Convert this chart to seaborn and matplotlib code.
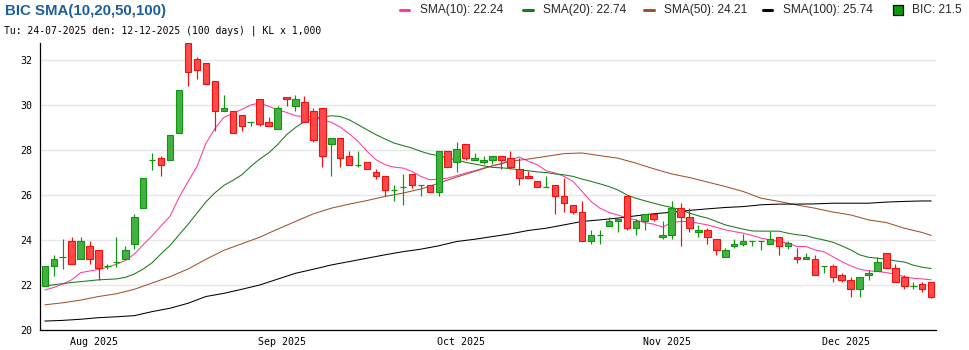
import numpy as np
import pandas as pd
import matplotlib
matplotlib.use("Agg")
import matplotlib.pyplot as plt
import seaborn as sns
from matplotlib.lines import Line2D
from matplotlib.patches import Rectangle

# ---- daily prices (KL x 1,000) ----
opens = [21.95, 22.86, 23.25, 23.95, 23.15, 23.73, 23.55, 22.84, 23.03, 23.15,
         23.82, 25.42, 27.57, 27.66, 27.57, 28.75, 32.75, 32.04, 31.87, 31.07,
         29.73, 29.75, 29.54, 29.24, 30.26, 29.24, 28.93, 30.35, 29.94, 30.13,
         29.73, 29.86, 28.27, 28.53, 27.73, 27.33, 27.47, 27.02, 26.84, 26.22,
         26.35, 26.95, 26.44, 26.44, 26.13, 27.95, 27.47, 28.27, 27.55, 27.47,
         27.55, 27.73, 27.64, 27.15, 26.84, 26.62, 26.35, 26.44, 25.95, 25.55,
         25.24, 23.95, 24.22, 24.62, 24.84, 25.97, 24.53, 24.84, 25.15, 24.13,
         24.22, 25.42, 25.02, 24.35, 24.44, 24.04, 23.24, 23.73, 23.82, 23.95,
         23.95, 23.82, 24.13, 23.73, 23.24, 23.15, 23.15, 22.84, 22.84, 22.44,
         22.22, 21.82, 22.44, 22.62, 23.42, 22.75, 22.35, 21.95, 22.04, 22.13]
highs = [22.85, 23.35, 24.06, 24.13, 24.13, 23.95, 23.55, 22.93, 24.15, 23.74,
         25.18, 26.75, 27.87, 27.75, 28.67, 30.65, 32.75, 32.13, 31.87, 31.07,
         30.46, 29.75, 29.54, 29.24, 30.26, 29.47, 29.97, 30.35, 30.46, 30.38,
         29.88, 29.86, 28.53, 28.53, 27.97, 27.97, 27.47, 27.15, 26.84, 26.44,
         26.95, 26.95, 26.44, 26.44, 27.95, 27.95, 28.35, 28.27, 27.87, 27.73,
         27.73, 27.73, 27.95, 27.64, 27.07, 26.62, 26.84, 26.44, 26.75, 25.55,
         25.75, 24.44, 24.44, 25.02, 24.93, 25.97, 24.93, 25.15, 25.15, 24.84,
         25.73, 25.64, 25.42, 24.67, 24.53, 24.04, 23.64, 24.04, 24.27, 23.95,
         23.95, 24.40, 24.13, 23.95, 23.64, 23.42, 23.33, 22.84, 22.93, 22.53,
         22.35, 22.35, 22.67, 23.24, 23.42, 22.93, 22.44, 22.13, 22.13, 22.13]
lows = [21.95, 22.43, 22.72, 22.93, 23.15, 22.93, 22.24, 22.74, 22.83, 23.15,
        23.61, 25.42, 27.12, 26.83, 27.57, 28.75, 30.83, 31.15, 30.95, 28.83,
        29.73, 28.75, 28.83, 29.05, 29.05, 29.05, 28.93, 29.94, 29.72, 29.24,
        28.34, 27.23, 26.83, 27.23, 27.33, 27.23, 27.15, 26.72, 25.94, 25.72,
        25.54, 26.31, 25.94, 26.13, 25.94, 27.23, 27.02, 27.54, 27.55, 27.38,
        27.38, 27.15, 27.15, 26.43, 26.75, 26.35, 26.35, 25.14, 25.23, 25.14,
        23.95, 23.81, 23.81, 24.62, 24.35, 24.43, 24.22, 24.43, 24.84, 24.04,
        24.04, 23.73, 24.35, 24.13, 23.82, 23.33, 23.24, 23.64, 23.73, 23.73,
        23.55, 23.82, 23.33, 23.63, 23.00, 23.15, 22.44, 22.53, 22.13, 22.13,
        21.49, 21.49, 22.22, 22.62, 22.75, 22.13, 21.82, 21.82, 21.72, 21.45]
closes = [22.85, 23.15, 23.25, 22.93, 23.95, 23.15, 22.75, 22.84, 23.03, 23.55,
          25.02, 26.75, 27.57, 27.33, 28.67, 30.65, 31.47, 31.55, 30.95, 29.73,
          29.87, 28.75, 29.05, 29.24, 29.15, 29.05, 29.87, 30.27, 30.27, 29.24,
          28.44, 27.72, 28.53, 27.64, 27.33, 27.33, 27.15, 26.84, 26.22, 26.22,
          26.35, 26.44, 26.44, 26.13, 27.95, 27.23, 28.04, 27.64, 27.64, 27.55,
          27.73, 27.55, 27.24, 26.75, 26.75, 26.35, 26.35, 25.95, 25.64, 25.24,
          23.95, 24.22, 24.22, 24.84, 24.93, 24.53, 24.84, 25.15, 24.93, 24.22,
          25.42, 25.02, 24.53, 24.44, 24.13, 23.55, 23.55, 23.82, 23.95, 23.95,
          23.95, 24.04, 23.73, 23.87, 23.15, 23.24, 22.44, 22.84, 22.35, 22.22,
          21.82, 22.35, 22.53, 23.02, 22.75, 22.13, 21.95, 21.95, 21.82, 21.50]

# ---- moving averages ----
sma10 = [21.79, 21.90, 22.05, 22.24, 22.56, 22.63, 22.70, 22.80, 22.93, 23.10,
         23.38, 23.80, 24.20, 24.64, 25.07, 25.90, 26.60, 27.27, 28.30, 28.95,
         29.45, 29.62, 29.80, 30.00, 30.09, 29.94, 29.79, 29.67, 29.52, 29.49,
         29.45, 29.34, 29.23, 29.02, 28.72, 28.38, 27.94, 27.57, 27.35, 27.24,
         27.20, 27.05, 26.83, 26.68, 26.71, 26.75, 26.86, 26.98, 27.08, 27.20,
         27.30, 27.39, 27.57, 27.69, 27.50, 27.35, 27.08, 26.98, 26.83, 26.61,
         26.16, 25.72, 25.42, 25.23, 25.12, 24.98, 24.90, 24.78, 24.71, 24.58,
         24.78, 24.83, 24.83, 24.75, 24.68, 24.57, 24.46, 24.38, 24.31, 24.21,
         24.09, 24.01, 23.94, 23.87, 23.72, 23.72, 23.57, 23.49, 23.27, 23.05,
         22.86, 22.71, 22.64, 22.61, 22.56, 22.49, 22.38, 22.31, 22.28, 22.24]
sma20 = [21.97, 22.02, 22.07, 22.12, 22.16, 22.20, 22.24, 22.26, 22.28, 22.35,
         22.50, 22.72, 23.00, 23.40, 23.77, 24.24, 24.70, 25.20, 25.70, 26.10,
         26.43, 26.65, 26.90, 27.27, 27.60, 27.87, 28.24, 28.68, 29.00, 29.27,
         29.39, 29.47, 29.52, 29.49, 29.34, 29.12, 28.90, 28.68, 28.49, 28.31,
         28.20, 28.09, 27.94, 27.82, 27.75, 27.64, 27.57, 27.45, 27.38, 27.30,
         27.23, 27.21, 27.18, 27.12, 27.08, 27.03, 27.00, 26.94, 26.90, 26.83,
         26.71, 26.61, 26.50, 26.38, 26.23, 26.01, 25.86, 25.75, 25.64, 25.54,
         25.45, 25.35, 25.20, 25.08, 24.98, 24.83, 24.68, 24.58, 24.49, 24.41,
         24.40, 24.40, 24.40, 24.31, 24.24, 24.20, 24.09, 24.01, 23.91, 23.75,
         23.57, 23.35, 23.24, 23.20, 23.15, 23.08, 23.03, 22.89, 22.80, 22.74]
# slower averages, sampled every second session
slow_days = list(range(0, 100, 2)) + [99]
sma50 = [21.13, 21.22, 21.34, 21.50, 21.62, 21.82, 22.10, 22.38, 22.72, 23.15,
         23.55, 23.84, 24.13, 24.49, 24.83, 25.17, 25.42, 25.60, 25.76, 25.94,
         26.09, 26.27, 26.53, 26.80, 27.05, 27.30, 27.50, 27.60, 27.72, 27.84,
         27.87, 27.75, 27.64, 27.42, 27.17, 26.94, 26.78, 26.58, 26.38, 26.16,
         25.86, 25.72, 25.56, 25.42, 25.25, 25.12, 24.90, 24.78, 24.53, 24.34,
         24.21]
sma100 = [20.41, 20.44, 20.49, 20.56, 20.60, 20.65, 20.83, 20.98, 21.20, 21.50,
          21.64, 21.82, 22.01, 22.27, 22.53, 22.71, 22.90, 23.05, 23.20, 23.35,
          23.49, 23.60, 23.75, 23.94, 24.04, 24.16, 24.28, 24.43, 24.53, 24.68,
          24.83, 24.90, 24.98, 25.08, 25.17, 25.24, 25.32, 25.39, 25.45, 25.49,
          25.57, 25.60, 25.60, 25.61, 25.64, 25.64, 25.64, 25.69, 25.72, 25.74,
          25.74]

# trading sessions (weekdays minus the National Day holiday)
holidays = ["2025-09-01", "2025-09-02"]
dates = pd.bdate_range("2025-07-24", "2025-12-12")
dates = dates[~dates.isin(pd.to_datetime(holidays))]

ticker = "BIC"
W, H = 970, 350

sns.set_style("white")
plt.rcParams["font.family"] = ["DejaVu Sans"]

C_UP_FILL, C_UP_EDGE = "#44b044", "#0e960e"
C_DN_FILL, C_DN_EDGE = "#ff4a4a", "#f01010"
sma_styles = [("SMA(10)", "#ff3aa0"), ("SMA(20)", "#1b7a1b"),
              ("SMA(50)", "#a0522d"), ("SMA(100)", "#000000")]

fig = plt.figure(figsize=(W / 100, H / 100), dpi=100)
ax = fig.add_axes([40.3 / W, 1 - 330.3 / H, (935.7 - 40.3) / W, (330.3 - 43.0) / H])

n = len(closes)
x = np.arange(n)
o, h, l, c = map(np.asarray, (opens, highs, lows, closes))

# moving average lines
df_fast = pd.DataFrame({"day": x, "SMA(10)": sma10, "SMA(20)": sma20})
df_slow = pd.DataFrame({"day": slow_days, "SMA(50)": sma50, "SMA(100)": sma100})
for (name, col) in sma_styles:
    src = df_fast if name in df_fast else df_slow
    sns.lineplot(data=src, x="day", y=name, color=col, lw=0.75, ax=ax, zorder=2)

# candles
up = c >= o
wick_col = np.where(up, C_UP_EDGE, C_DN_EDGE)
ax.vlines(x, l, h, colors=wick_col, lw=0.85, zorder=3)
body_w = 0.72
flat = np.isclose(o, c)
solid = ~flat
ax.bar(x[solid & up], (c - o)[solid & up], bottom=o[solid & up], width=body_w,
       color=C_UP_FILL, edgecolor=C_UP_EDGE, linewidth=0.8, zorder=4)
ax.bar(x[solid & ~up], (o - c)[solid & ~up], bottom=c[solid & ~up], width=body_w,
       color=C_DN_FILL, edgecolor=C_DN_EDGE, linewidth=0.8, zorder=4)
ax.hlines(c[flat], x[flat] - body_w / 2, x[flat] + body_w / 2,
          colors=C_UP_EDGE, lw=0.85, zorder=4)

# axes
ax.set_xlim(-0.5, n - 0.5)
ax.set_ylim(20, max(highs))
ax.set_xlabel("")
ax.set_ylabel("")
ax.set_yticks(np.arange(20, 33, 2))
ax.set_yticks(np.arange(21, 33, 2), minor=True)
ax.set_yticklabels([f"{v:d}" for v in range(20, 33, 2)])
month_start = [i for i in range(1, n) if dates[i].month != dates[i - 1].month]
ax.set_xticks([i - 0.5 for i in month_start])
ax.set_xticklabels([dates[i].strftime("%b %Y") for i in month_start])
ax.tick_params(axis="both", which="major", direction="in", length=5, width=0.8,
               color="black", labelsize=7.2, labelcolor="black")
ax.tick_params(axis="y", which="minor", direction="in", length=4, width=0.8, color="black")
ax.tick_params(axis="y", which="major", pad=6)
ax.tick_params(axis="x", which="major", pad=5)
for lab in ax.get_xticklabels() + ax.get_yticklabels():
    lab.set_family("DejaVu Sans Mono")
ax.grid(axis="y", which="major", color="#e6e6e6", lw=1.0, zorder=0)
ax.grid(axis="x", visible=False)
ax.set_axisbelow(True)
for side in ("top", "right"):
    ax.spines[side].set_visible(False)
for side in ("left", "bottom"):
    ax.spines[side].set_color("black")
    ax.spines[side].set_linewidth(0.9)


def fx(px):
    return px / W


def fy(py):
    return 1 - py / H


# header
fig.text(fx(5), fy(11.5), f"{ticker} SMA(10,20,50,100)", fontsize=10.8, fontweight="bold",
         color="#1c5f9e", family="Liberation Sans", va="center", ha="left")
fig.text(fx(4), fy(31), f"Tu: {dates[0]:%d-%m-%Y} den: {dates[-1]:%d-%m-%Y} ({n} days) | KL x 1,000",
         fontsize=7, family="DejaVu Sans Mono", va="center", ha="left", color="black")

# legend row
last_vals = [sma10[-1], sma20[-1], sma50[-1], sma100[-1]]
swatch_x = [400, 523, 644, 763]
for (name, col), val, sx in zip(sma_styles, last_vals, swatch_x):
    fig.add_artist(Line2D([fx(sx), fx(sx + 9.5)], [fy(10), fy(10)], color=col, lw=2.2,
                          transform=fig.transFigure))
    fig.text(fx(sx + 20), fy(10), f"{name}: {val:.2f}", fontsize=8.6,
             family="Liberation Sans", va="center", ha="left")
fig.add_artist(Rectangle((fx(893), fy(15)), 10 / W, 10 / H, facecolor="#0a9a0a",
                         edgecolor="black", lw=0.9, transform=fig.transFigure))
fig.text(fx(912), fy(10), f"{ticker}: {closes[-1]:g}", fontsize=8.6,
         family="Liberation Sans", va="center", ha="left")

fig.savefig("out.png", dpi=100)
